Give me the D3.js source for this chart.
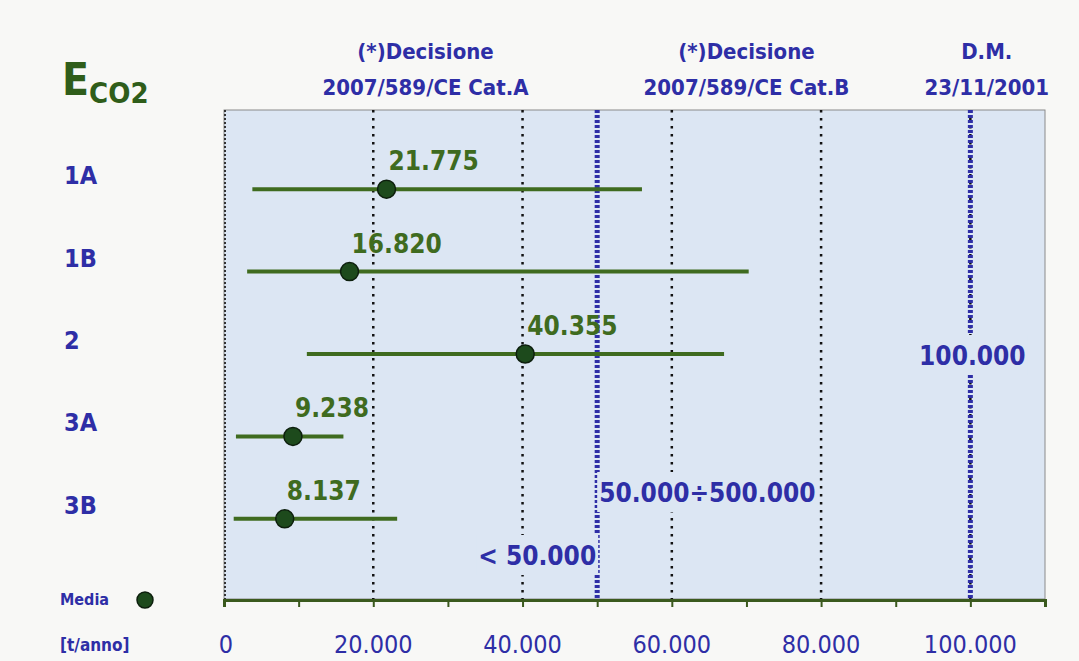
<!DOCTYPE html>
<html>
<head>
<meta charset="utf-8">
<script src="https://cdn.jsdelivr.net/npm/d3@7"></script>
<style>
  body { margin: 0; background: #f8f8f6; }
  svg { font-family: "DejaVu Sans Condensed", "DejaVu Sans", sans-serif; }
</style>
</head>
<body>
<div id="chart"></div>
<script>
var categories = ['1A', '1B', '2', '3A', '3B'];
var means = [21775, 16820, 40355, 9238, 8137];
var mins = [3800, 3100, 11100, 1600, 1300];
var maxs = [56000, 70300, 67000, 16000, 23200];
var tickValues = [0, 20000, 40000, 60000, 80000, 100000];
var gridValues = [20000, 40000, 60000, 80000, 100000];
var limits = [50000, 100000];
var headerLine1 = ['(*)Decisione', '(*)Decisione', 'D.M.'];
var headerLine2 = ['2007/589/CE Cat.A', '2007/589/CE Cat.B', '23/11/2001'];
var headerAt = [27000, 70000, 102200];

var fmt = function(v) { return d3.format(',')(v).replace(/,/g, '.'); };

var width = 1079, height = 661;
var margin = {top: 110, right: 34, bottom: 61, left: 224};

var svg = d3.select('#chart').append('svg')
    .attr('width', width)
    .attr('height', height);

var x = d3.scaleLinear().domain([0, 110000]).range([margin.left, width - margin.right]);
var y = d3.scaleBand().domain(categories).range([148, 560]);

var green = '#3f6b1f', dark = '#1d4a1c', blue = '#2e2ea6';

// plot background
svg.append('rect')
    .attr('x', x(0)).attr('y', margin.top)
    .attr('width', x(110000) - x(0))
    .attr('height', height - margin.bottom - margin.top - 1)
    .attr('fill', '#dce6f3')
    .attr('stroke', '#8a8a8a')
    .attr('stroke-width', 1);
svg.append('line')
    .attr('x1', x(0) + 1).attr('x2', x(0) + 1)
    .attr('y1', margin.top).attr('y2', height - margin.bottom)
    .attr('stroke', '#333').attr('stroke-width', 2)
    .attr('stroke-dasharray', '2,2');

// dotted grid
svg.selectAll('.grid')
    .data(gridValues)
    .enter().append('line')
    .attr('class', 'grid')
    .attr('x1', function(d) { return x(d); })
    .attr('x2', function(d) { return x(d); })
    .attr('y1', margin.top)
    .attr('y2', height - margin.bottom)
    .attr('stroke', '#111')
    .attr('stroke-width', 2.5)
    .attr('stroke-dasharray', '2.5,5.5');

// limit lines
svg.selectAll('.limit')
    .data(limits)
    .enter().append('line')
    .attr('class', 'limit')
    .attr('x1', function(d) { return x(d); })
    .attr('x2', function(d) { return x(d); })
    .attr('y1', margin.top)
    .attr('y2', height - margin.bottom)
    .attr('stroke', blue)
    .attr('stroke-width', 5)
    .attr('stroke-dasharray', '3,2');

// labels on the limit lines, with a patch of background behind
var bg = '#dce6f3';
function limitLabel(txt, xx, yy, anchor) {
  var t = svg.append('text')
      .attr('x', xx).attr('y', yy)
      .attr('text-anchor', anchor)
      .attr('fill', blue)
      .style('font-size', '26px')
      .style('font-weight', 'bold')
      .text(txt);
  var b = t.node().getBBox();
  svg.insert('rect', function() { return t.node(); })
      .attr('x', b.x - 2).attr('y', b.y - 6)
      .attr('width', b.width + 4).attr('height', b.height + 10)
      .attr('fill', bg);
}
limitLabel(fmt(100000), x(100000) + 2, 365, 'middle');
limitLabel(fmt(50000) + '\u00f7' + fmt(500000), x(50000) + 2, 502, 'start');
limitLabel('< ' + fmt(50000), x(50000) - 1, 565, 'end');

// axis
var axis = svg.append('g')
    .attr('transform', 'translate(0,' + (height - margin.bottom) + ')')
    .call(d3.axisBottom(x).tickValues(d3.range(0, 110001, 10000)).tickSize(7).tickFormat(''));
axis.select('.domain').attr('stroke', '#3b5a1e').attr('stroke-width', 3);
axis.selectAll('.tick line').attr('stroke', '#3b5a1e').attr('stroke-width', 2);

svg.selectAll('.tlabel')
    .data(tickValues)
    .enter().append('text')
    .attr('class', 'tlabel')
    .attr('x', function(d) { return x(d) + (d === 0 ? 2 : 0); })
    .attr('y', 653)
    .attr('text-anchor', 'middle')
    .attr('fill', blue)
    .style('font-size', '25px')
    .text(function(d) { return fmt(d); });

// range bars
svg.selectAll('.range')
    .data(categories)
    .enter().append('line')
    .attr('class', 'range')
    .attr('x1', function(d, i) { return x(mins[i]); })
    .attr('x2', function(d, i) { return x(maxs[i]); })
    .attr('y1', function(d) { return y(d) + y.bandwidth() / 2; })
    .attr('y2', function(d) { return y(d) + y.bandwidth() / 2; })
    .attr('stroke', green)
    .attr('stroke-width', 4);

svg.selectAll('.dot')
    .data(categories)
    .enter().append('circle')
    .attr('class', 'dot')
    .attr('cx', function(d, i) { return x(means[i]); })
    .attr('cy', function(d) { return y(d) + y.bandwidth() / 2; })
    .attr('r', 9)
    .attr('fill', dark)
    .attr('stroke', '#0d1f0d')
    .attr('stroke-width', 1.5);

svg.selectAll('.vlabel')
    .data(categories)
    .enter().append('text')
    .attr('class', 'vlabel')
    .attr('x', function(d, i) { return x(means[i]) + 2; })
    .attr('y', function(d) { return y(d) + y.bandwidth() / 2 - 19; })
    .attr('fill', green)
    .style('font-size', '26px')
    .style('font-weight', 'bold')
    .text(function(d, i) { return fmt(means[i]); });

// category labels
svg.selectAll('.cat')
    .data(categories)
    .enter().append('text')
    .attr('class', 'cat')
    .attr('x', 64)
    .attr('y', function(d) { return y(d) + y.bandwidth() / 2 - 5; })
    .attr('fill', blue)
    .style('font-size', '25px')
    .style('font-weight', 'bold')
    .text(function(d) { return d; });

// headers
headerAt.forEach(function(v, i) {
  svg.append('text').attr('x', x(v)).attr('y', 59)
    .attr('text-anchor', 'middle').attr('fill', blue)
    .style('font-size', '22px').style('font-weight', 'bold').text(headerLine1[i]);
  svg.append('text').attr('x', x(v)).attr('y', 95)
    .attr('text-anchor', 'middle').attr('fill', blue)
    .style('font-size', '22px').style('font-weight', 'bold').text(headerLine2[i]);
});

// title
var title = svg.append('text').attr('x', 62).attr('y', 95)
    .attr('fill', '#2f5d1a').style('font-weight', 'bold');
title.append('tspan').style('font-size', '44px').text('E');
title.append('tspan').attr('dy', 8).style('font-size', '29px').text('CO2');

// legend
svg.append('text').attr('x', 60).attr('y', 605)
    .attr('fill', blue).style('font-size', '16px').style('font-weight', 'bold').text('Media');
svg.append('circle').attr('cx', 145).attr('cy', 600).attr('r', 8)
    .attr('fill', dark).attr('stroke', '#0d1f0d').attr('stroke-width', 1.5);
svg.append('text').attr('x', 60).attr('y', 651)
    .attr('fill', blue).style('font-size', '17px').style('font-weight', 'bold').text('[t/anno]');
</script>
</body>
</html>
